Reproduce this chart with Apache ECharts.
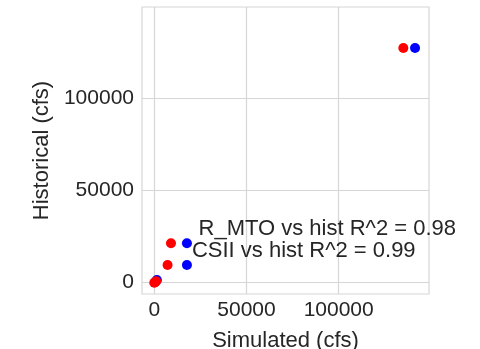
<!DOCTYPE html>
<html>
<head>
<meta charset="utf-8">
<script src="https://cdn.jsdelivr.net/npm/echarts@6/dist/echarts.min.js"></script>
<style>
  html, body { margin: 0; padding: 0; background: #fff; }
  #main { width: 480px; height: 349px; }
</style>
</head>
<body>
<div id="main"></div>
<script>
// simulated vs historical flows (cfs)
const histFlow = [127140, 21340, 9590, 0, 300, 800];
const rmtoSim = [135050, 9050, 7200, 0, 500, 1000];
const csiiSim = [141400, 17700, 17700, 1400];
const csiiHist = [127140, 21340, 9590, 1500];
const tickVals = [0, 50000, 100000];
const notes = ['R_MTO vs hist R^2 = 0.98', 'CSII vs hist R^2 = 0.99'];
const notePos = [[24000, 29300], [20400, 17400]];

const textColor = '#262626';
const gridColor = '#d6d6d6';
const font = 'Liberation Sans';

function pairs(xs, ys) {
  return xs.map(function (x, i) { return [x, ys[i]]; });
}

const myChart = echarts.init(document.getElementById('main'));
myChart.setOption({
  backgroundColor: '#ffffff',
  animation: false,
  grid: {
    left: 142, right: 51, top: 7, bottom: 55,
    outerBoundsMode: 'none',
    containLabel: false,
    show: true, borderColor: gridColor, borderWidth: 1.2
  },
  xAxis: {
    type: 'value',
    min: -6660, max: 148970,
    name: 'Simulated (cfs)',
    nameLocation: 'middle',
    nameGap: 36,
    nameTextStyle: { color: textColor, fontSize: 22, fontFamily: font },
    axisLine: { show: false },
    axisTick: { show: false },
    splitLine: { show: false },
    axisLabel: {
      customValues: tickVals,
      formatter: function (v) { return String(v); },
      color: textColor, fontSize: 21, fontFamily: font, margin: 6
    }
  },
  yAxis: {
    type: 'value',
    min: -6120, max: 149350,
    name: 'Historical (cfs)',
    nameLocation: 'middle',
    nameGap: 88,
    nameTextStyle: { color: textColor, fontSize: 22, fontFamily: font },
    axisLine: { show: false },
    axisTick: { show: false },
    splitLine: { show: false },
    axisLabel: {
      customValues: tickVals,
      formatter: function (v) { return String(v); },
      color: textColor, fontSize: 21, fontFamily: font, margin: 8
    }
  },
  series: [
    {
      name: 'grid',
      type: 'scatter',
      data: [],
      silent: true,
      z: 1,
      markLine: {
        silent: true,
        z: 1,
        symbol: 'none',
        label: { show: false },
        lineStyle: { color: gridColor, width: 1.2, type: 'solid' },
        data: tickVals.map(function (v) { return { xAxis: v }; })
          .concat(tickVals.map(function (v) { return { yAxis: v }; }))
      }
    },
    {
      name: 'CSII',
      type: 'scatter',
      symbolSize: 10,
      z: 2,
      itemStyle: { color: '#0000ff', opacity: 1 },
      data: pairs(csiiSim, csiiHist)
    },
    {
      name: 'R_MTO',
      type: 'scatter',
      symbolSize: 10,
      z: 3,
      itemStyle: { color: '#ff0000', opacity: 1 },
      data: pairs(rmtoSim, histFlow)
    },
    {
      name: 'notes',
      type: 'scatter',
      symbolSize: 0,
      silent: true,
      z: 4,
      itemStyle: { opacity: 1 },
      label: {
        show: true,
        position: 'right',
        distance: 0,
        color: textColor,
        fontSize: 22,
        fontFamily: font,
        formatter: function (p) { return notes[p.dataIndex]; }
      },
      data: notePos
    }
  ]
});
</script>
</body>
</html>
